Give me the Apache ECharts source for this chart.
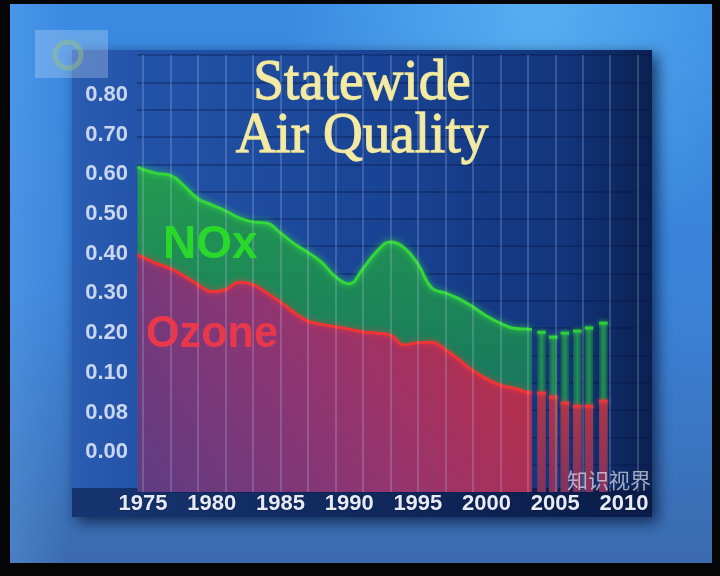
<!DOCTYPE html>
<html><head><meta charset="utf-8">
<script src="https://cdn.jsdelivr.net/npm/echarts@6/dist/echarts.min.js"></script>
<style>html,body{margin:0;padding:0;background:#050505}#c{width:720px;height:576px}</style>
</head><body><div id="c"></div>
<script>
// ---- data (y values are positions on the chart's tick scale: 0 = "0.00", 1 = "0.08", 2 = "0.10", ... 9 = "0.80")
const years        = [1974.6,1975,1976,1977,1978,1979,1980,1981,1982,1983,1984,1985,1986,1987,1988,1989,1990,1991,1992,1993,1994,1995,1996,1997,1998,1999,2000,2001,2002,2003,2003.3];
const noxLevels    = [7.18,7.12,7.02,6.97,6.70,6.38,6.23,6.08,5.90,5.80,5.77,5.52,5.25,5.03,4.78,4.42,4.24,4.62,5.05,5.29,5.15,4.74,4.14,4.01,3.86,3.66,3.43,3.25,3.12,3.10,3.09];
const ozoneLevels  = [4.97,4.90,4.75,4.62,4.43,4.22,4.04,4.09,4.28,4.22,4.01,3.78,3.51,3.30,3.22,3.16,3.10,3.03,3.00,2.95,2.70,2.76,2.77,2.58,2.33,2.05,1.85,1.69,1.61,1.51,1.50];
const barYears       = [2004.0,2004.85,2005.7,2006.6,2007.45,2008.5];
const noxBarLevels   = [3.02,2.90,3.00,3.05,3.13,3.25];
const ozoneBarLevels = [1.49,1.39,1.24,1.16,1.16,1.29];
const yTickLabels  = ['0.00','0.08','0.10','0.20','0.30','0.40','0.50','0.60','0.70','0.80'];
const xTickLabels  = [1975,1980,1985,1990,1995,2000,2005,2010];
const gridYears    = [1975,1977,1979,1981,1983,1985,1987,1989,1991,1993,1995,1997,1999,2001,2003,2005,2007,2009,2011];
const titleLines   = ['Statewide','Air Quality'];
const seriesNames  = ['NOx','Ozone'];
const watermark    = '知识视界';

const Y_MIN = -1, Y_MAX = 10;
const chart = echarts.init(document.getElementById('c'), null, {renderer:'canvas'});
const LG = echarts.graphic.LinearGradient;

function barRenderer(fillFn, topColor){
  return function(params, api){
    const x = api.value(0), v = api.value(1);
    const top = api.coord([x, v]);
    const base = api.coord([x, Y_MIN]);
    const w = api.size([0.62, 0])[0];
    return {type:'group', children:[
      {type:'rect', shape:{x:top[0]-w/2, y:top[1], width:w, height:base[1]-top[1]}, style:{fill:fillFn(), opacity:0.92}},
      {type:'rect', shape:{x:top[0]-w/2, y:top[1]-1.5, width:w, height:3}, style:{fill:topColor, shadowBlur:4, shadowColor:topColor}}
    ]};
  };
}

const axisFont = 'Liberation Sans, Arial, sans-serif';
const option = {
  animation:false,
  backgroundColor:'#050505',
  grid:{left:137, right:68, top:55, bottom:84},
  xAxis:{type:'value', min:1974.56, max:2012.04,
    axisLine:{show:false}, axisTick:{show:false}, splitLine:{show:false},
    axisLabel:{customValues:xTickLabels, formatter:v=>String(v), margin:1,
      color:'#e6ebf6', fontFamily:axisFont, fontWeight:'bold', fontSize:22,
      textShadowColor:'rgba(0,0,20,0.6)', textShadowBlur:2}},
  yAxis:[
    {type:'value', min:Y_MIN, max:Y_MAX,
      axisLine:{show:false}, axisTick:{show:false}, splitLine:{show:false},
      axisLabel:{customValues:[0,1,2,3,4,5,6,7,8,9], formatter:v=>yTickLabels[Math.round(v)], margin:9,
        padding:[5,0,0,0],
        color:'#cad6ee', fontFamily:axisFont, fontWeight:'bold', fontSize:22}},
    {type:'value', min:0, max:16, interval:1, show:true,
      axisLine:{show:false}, axisTick:{show:false}, axisLabel:{show:false},
      splitLine:{show:true, lineStyle:{color:'rgba(6,22,70,0.45)', width:1.5}}}
  ],
  graphic:{elements:[
    {type:'rect', z:-20, shape:{x:10,y:4,width:702,height:559},
      style:{fill:new LG(0,0,0,1,[{offset:0,color:'#3a8ae2'},{offset:0.5,color:'#3a84da'},{offset:1,color:'#3b6aae'}])}},
    {type:'rect', z:-19, shape:{x:10,y:4,width:702,height:559},
      style:{fill:new echarts.graphic.RadialGradient(0.75,0.02,0.45,[{offset:0,color:'rgba(110,205,255,0.55)'},{offset:1,color:'rgba(110,205,255,0)'}])}},
    {type:'rect', z:-19, shape:{x:10,y:4,width:60,height:559},
      style:{fill:new LG(0,0,1,0,[{offset:0,color:'rgba(120,190,255,0.25)'},{offset:1,color:'rgba(120,190,255,0)'}])}},
    {type:'rect', z:-18, shape:{x:72,y:50,width:580,height:467},
      style:{fill:new LG(0,0,1,0,[{offset:0,color:'#2a5db2'},{offset:0.12,color:'#2353a8'},{offset:0.5,color:'#1a4596'},{offset:0.85,color:'#12357c'},{offset:1,color:'#0b2050'}]),
        shadowBlur:14, shadowColor:'rgba(0,10,40,0.7)', shadowOffsetX:5, shadowOffsetY:5}},
    {type:'rect', z:-17, shape:{x:72,y:488,width:580,height:29},
      style:{fill:new LG(0,0,1,0,[{offset:0,color:'#163570'},{offset:1,color:'#0a1c48'}])}},
    // logo
    {type:'rect', z:90, shape:{x:35,y:30,width:73,height:48}, style:{fill:'rgba(215,230,250,0.28)'}},
    {type:'circle', z:91, shape:{cx:68,cy:55,r:13}, style:{fill:'none', stroke:'rgba(160,200,110,0.4)', lineWidth:5}},
    // title
    {type:'text', z:100, x:362, y:84, scaleX:0.95,
      style:{text:titleLines[0], x:0, y:0, textAlign:'center', textVerticalAlign:'middle', fill:'#f3eaa6',
        stroke:'#e6dc92', lineWidth:1.3,
        font:'58px "Liberation Serif", serif', shadowBlur:4, shadowColor:'rgba(0,0,0,0.85)', shadowOffsetX:3, shadowOffsetY:3}},
    {type:'text', z:100, x:362, y:137, scaleX:0.95,
      style:{text:titleLines[1], x:0, y:0, textAlign:'center', textVerticalAlign:'middle', fill:'#f3eaa6',
        stroke:'#e6dc92', lineWidth:1.3,
        font:'58px "Liberation Serif", serif', shadowBlur:4, shadowColor:'rgba(0,0,0,0.85)', shadowOffsetX:3, shadowOffsetY:3}},
    // series labels
    {type:'text', z:60, x:163, y:245,
      style:{text:seriesNames[0], x:0, y:0, textAlign:'left', textVerticalAlign:'middle', fill:'#2ad82c',
        font:'bold 46px "Liberation Sans", sans-serif', shadowBlur:6, shadowColor:'rgba(40,255,40,0.5)'}},
    {type:'text', z:60, x:146, y:335, scaleX:0.96,
      style:{text:seriesNames[1], x:0, y:0, textAlign:'left', textVerticalAlign:'middle', fill:'#e8384c',
        font:'bold 45px "Liberation Sans", sans-serif', shadowBlur:6, shadowColor:'rgba(255,40,60,0.5)'}},
    // watermark
    {type:'text', z:100, x:567, y:480,
      style:{text:watermark, x:0, y:0, textAlign:'left', textVerticalAlign:'middle', fill:'rgba(225,225,235,0.7)',
        font:'21px "Noto Sans CJK SC", sans-serif'}}
  ]},
  series:[
    {name:seriesNames[0], type:'line', z:2, smooth:0.45, symbol:'none',
      data:years.map((y,i)=>[y,noxLevels[i]]),
      lineStyle:{color:'#34d63a', width:3, shadowBlur:6, shadowColor:'rgba(60,255,60,0.7)'},
      areaStyle:{origin:'start', opacity:1, color:new LG(0,0,0,1,[{offset:0,color:'rgba(36,160,72,0.92)'},{offset:1,color:'rgba(20,110,100,0.92)'}])}},
    {name:seriesNames[1], type:'line', z:3, smooth:0.45, symbol:'none',
      data:years.map((y,i)=>[y,ozoneLevels[i]]),
      lineStyle:{color:'#f03434', width:3, shadowBlur:6, shadowColor:'rgba(255,60,60,0.7)'},
      areaStyle:{origin:'start', opacity:1, color:new LG(1,0,0,1,[{offset:0,color:'#c42c3c'},{offset:0.5,color:'#96346e'},{offset:1,color:'#5e3c84'}])}},
    {name:seriesNames[0]+' bars', type:'custom', z:3,
      renderItem:barRenderer(()=>new LG(0,0,1,0,[{offset:0,color:'#145f48'},{offset:0.5,color:'#23975a'},{offset:1,color:'#145f48'}]), '#2fcf3a'),
      data:barYears.map((y,i)=>[y,noxBarLevels[i]])},
    {name:seriesNames[1]+' bars', type:'custom', z:4,
      renderItem:barRenderer(()=>new LG(0,0,0,1,[{offset:0,color:'#b83048'},{offset:1,color:'#8a2c62'}]), '#e83838'),
      data:barYears.map((y,i)=>[y,ozoneBarLevels[i]])},
    {name:'grid', type:'line', z:5, data:[], silent:true,
      markLine:{silent:true, symbol:['none','none'], label:{show:false},
        lineStyle:{color:'rgba(200,215,255,0.28)', width:1.5, type:'solid'},
        data:gridYears.map(y=>({xAxis:y}))}}
  ]
};
chart.setOption(option);
</script></body></html>
